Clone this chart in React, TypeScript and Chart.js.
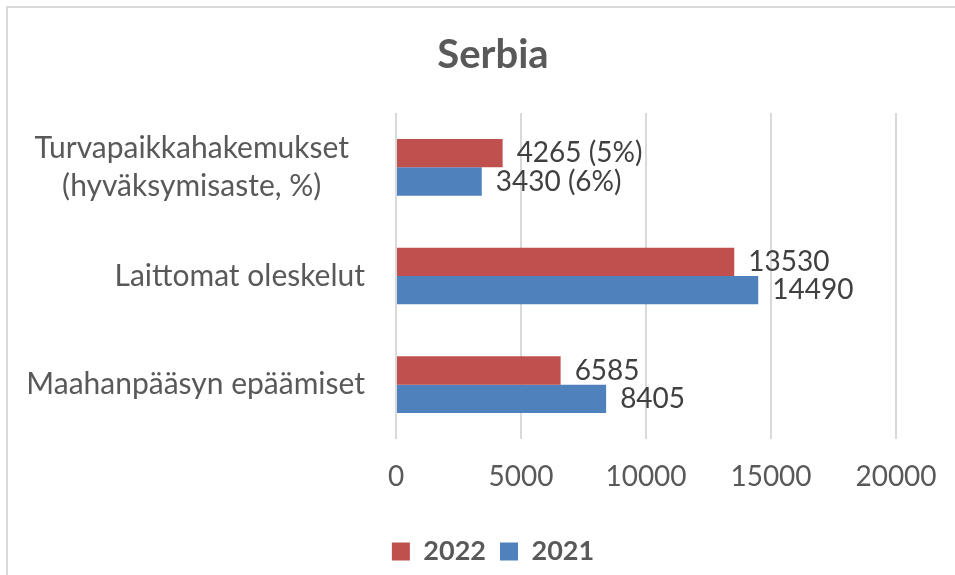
import React, { useEffect, useRef } from "react";
import { Chart, registerables } from "chart.js";

Chart.register(...registerables);

const categories: (string | string[])[] = [
  ["Turvapaikkahakemukset", "(hyväksymisaste, %)"],
  "Laittomat oleskelut",
  "Maahanpääsyn epäämiset",
];
const values2022 = [4265, 13530, 6585];
const values2021 = [3430, 14490, 8405];
const rates2022: (number | null)[] = [5, null, null];
const rates2021: (number | null)[] = [6, null, null];
const seriesLabels = ["2022", "2021"];
const xTickMin = 0;
const xTickMax = 20000;
const xTickStep = 5000;
const chartTitle = "Serbia";

const FONT = "Lato, 'Open Sans', sans-serif";
const TEXT = "#595959";

const framePlugin = {
  id: "frame",
  beforeDraw(chart: any) {
    const ctx = chart.ctx;
    ctx.save();
    ctx.fillStyle = "#ffffff";
    ctx.fillRect(0, 0, chart.width, chart.height);
    ctx.strokeStyle = "#d9d9d9";
    ctx.lineWidth = 2;
    ctx.beginPath();
    ctx.moveTo(7, chart.height);
    ctx.lineTo(7, 7);
    ctx.lineTo(chart.width, 7);
    ctx.stroke();
    ctx.restore();
  },
};

const categoryLabelPlugin = {
  id: "categoryLabels",
  afterDraw(chart: any) {
    const ctx = chart.ctx;
    const yScale = chart.scales.y;
    const right = chart.chartArea.left - 31;
    const lineH = 38;
    ctx.save();
    ctx.font = `30px ${FONT}`;
    ctx.fillStyle = TEXT;
    ctx.textBaseline = "middle";
    categories.forEach((lab, i) => {
      const lines = Array.isArray(lab) ? lab : [lab];
      const cy = yScale.getPixelForValue(i);
      if (lines.length === 1) {
        ctx.textAlign = "right";
        ctx.fillText(lines[0], right, cy);
      } else {
        const maxW = Math.max(...lines.map((l) => ctx.measureText(l).width));
        const cx = right - (maxW + 32) / 2;
        ctx.textAlign = "center";
        lines.forEach((l, k) => {
          ctx.fillText(l, cx, cy + (k - (lines.length - 1) / 2) * lineH);
        });
      }
    });
    ctx.restore();
  },
};

const valueLabelPlugin = {
  id: "valueLabels",
  afterDatasetsDraw(chart: any) {
    const ctx = chart.ctx;
    const rates = [rates2022, rates2021];
    ctx.save();
    ctx.font = `28px ${FONT}`;
    ctx.fillStyle = "#404040";
    ctx.textAlign = "left";
    ctx.textBaseline = "middle";
    chart.data.datasets.forEach((ds: any, di: number) => {
      const meta = chart.getDatasetMeta(di);
      meta.data.forEach((bar: any, i: number) => {
        const r = rates[di][i];
        const txt = String(ds.data[i]) + (r != null ? ` (${r}%)` : "");
        ctx.fillText(txt, bar.x + 14, bar.y);
      });
    });
    ctx.restore();
  },
};

export default function App() {
  const ref = useRef<HTMLCanvasElement>(null);
  useEffect(() => {
    document.body.style.margin = "0";
    const chart = new Chart(ref.current!, {
      type: "bar",
      data: {
        labels: categories as any,
        datasets: [
          {
            label: seriesLabels[0],
            data: values2022,
            backgroundColor: "#C0504D",
            categoryPercentage: 0.522,
            barPercentage: 1,
          },
          {
            label: seriesLabels[1],
            data: values2021,
            backgroundColor: "#4F81BD",
            categoryPercentage: 0.522,
            barPercentage: 1,
          },
        ],
      },
      options: {
        indexAxis: "y",
        responsive: false,
        animation: false,
        devicePixelRatio: 1,
        layout: { padding: { left: 90, right: 59, top: 0, bottom: 0 } },
        plugins: {
          title: {
            display: true,
            text: chartTitle,
            color: TEXT,
            font: { family: FONT, size: 40, weight: "bold" },
            padding: { top: 31, bottom: 34 },
          },
          legend: {
            position: "bottom",
            labels: {
              boxWidth: 18,
              boxHeight: 18,
              padding: 14,
              color: TEXT,
              font: { family: FONT, size: 27, weight: "bold" },
            },
          },
          tooltip: { enabled: false },
        },
        scales: {
          x: {
            min: xTickMin,
            max: xTickMax,
            ticks: {
              stepSize: xTickStep,
              color: TEXT,
              font: { family: FONT, size: 28 },
              padding: 21,
              callback: (v: any) => String(v),
            },
            grid: { color: "#d9d9d9", lineWidth: 2, drawTicks: false },
            border: { display: false },
            afterFit(scale: any) {
              scale.height = 85;
              scale.paddingRight = 0;
              scale.paddingLeft = 0;
            },
          },
          y: {
            ticks: { display: false },
            grid: { display: false, drawTicks: false },
            border: { display: false },
            afterFit(scale: any) {
              scale.width = 306;
            },
          },
        },
      },
      plugins: [framePlugin, categoryLabelPlugin, valueLabelPlugin],
    });
    return () => chart.destroy();
  }, []);
  return <canvas ref={ref} width={955} height={575} style={{ display: "block" }} />;
}
